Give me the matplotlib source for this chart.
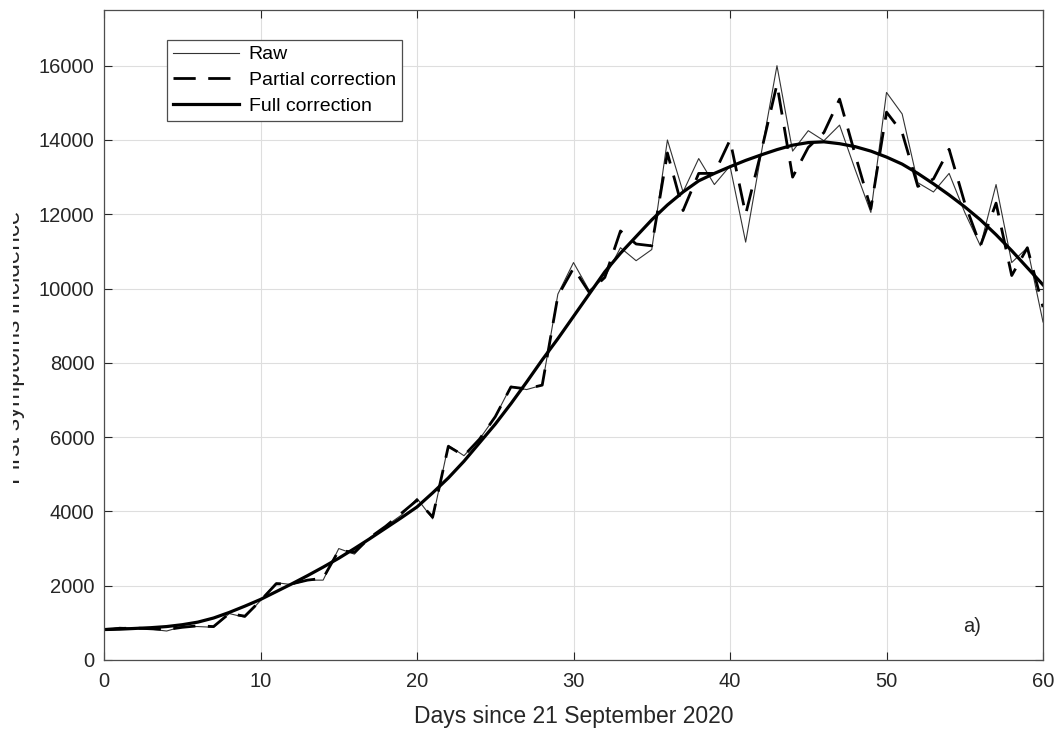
import matplotlib
matplotlib.use("Agg")
import matplotlib.pyplot as plt
from matplotlib.patches import Rectangle

plt.rcParams['font.family'] = ['Liberation Sans', 'DejaVu Sans']

# Days since 21 September 2020
days = list(range(61))

# Raw first-symptoms incidence
raw = [800, 880, 850, 830, 780, 900, 900, 880, 1250, 1150,
       1600, 2080, 2030, 2150, 2150, 3000, 2850, 3300, 3600, 3900,
       4350, 3800, 5780, 5500, 5950, 6550, 7370, 7280, 7400, 9850,
       10700, 9950, 10300, 11100, 10750, 11050, 14000, 12600, 13500, 12800,
       13300, 11250, 13650, 16000, 13700, 14250, 13980, 14400, 13200, 12050,
       15280, 14700, 12850, 12600, 13100, 12050, 11150, 12800, 10700, 11100,
       9100]

partial = [820, 850, 860, 840, 820, 880, 920, 900, 1250, 1180,
           1600, 2050, 2050, 2150, 2200, 2950, 2900, 3300, 3600, 3950,
           4300, 3850, 5750, 5500, 5950, 6550, 7350, 7300, 7400, 9800,
           10550, 9900, 10300, 11550, 11200, 11150, 13650, 12100, 13100, 13100,
           14000, 12000, 13700, 15500, 13000, 13800, 14200, 15100, 13600, 12150,
           14750, 14200, 12750, 12950, 13750, 12300, 11150, 12300, 10350, 11100,
           9500]

full = [820, 830, 850, 870, 900, 950, 1020, 1130, 1280, 1450,
        1630, 1840, 2050, 2270, 2500, 2740, 3000, 3270, 3550, 3830,
        4120, 4500, 4900, 5350, 5850, 6350, 6900, 7480, 8080, 8650,
        9250, 9850, 10450, 10950, 11400, 11850, 12250, 12600, 12900, 13100,
        13280, 13450, 13600, 13740, 13860, 13930, 13950, 13900, 13820, 13700,
        13540, 13350, 13100, 12820, 12520, 12200, 11850, 11450, 11020, 10560,
        10100]

fig = plt.figure(figsize=(10.56, 7.33), dpi=100)
ax = fig.add_axes([0.0985, 0.0996, 0.8892, 0.8868])

ax.plot(days, raw, color='#333333', lw=0.8, label='Raw')
ax.plot(days, partial, color='black', lw=2.0, linestyle=(0, (8, 4.5)),
        label='Partial correction')
ax.plot(days, full, color='black', lw=2.3, label='Full correction')

ax.set_xlim(0, 60)
ax.set_ylim(0, 17500)
ax.set_xticks(range(0, 61, 10))
ax.set_yticks(range(0, 16001, 2000))
ax.grid(True, color='#dedede', lw=0.8)
ax.set_axisbelow(True)
ax.tick_params(direction='in', length=6, width=0.8, colors='#262626',
               labelsize=14.5, top=True, right=True)
ax.tick_params(axis='x', pad=9)
ax.tick_params(axis='y', pad=7)
for sp in ax.spines.values():
    sp.set_color('#4d4d4d')
    sp.set_linewidth(0.9)

ax.set_xlabel('Days since 21 September 2020', fontsize=16.5, color='#262626',
              labelpad=10)

# y label: its upper part is cut off in the original figure
fig.text(25 / 1056, 1 - 347 / 733, 'First symptoms incidence',
         rotation=90, ha='center', va='bottom', fontsize=17.5,
         color='#262626', rotation_mode='anchor', zorder=2)
fig.patches.append(Rectangle((0, 0), 13 / 1056, 1, transform=fig.transFigure,
                             facecolor='white', edgecolor='none', zorder=5))

ax.text(54.9, 760, 'a)', fontsize=14.5, color='#262626')

leg = ax.legend(loc='upper left', bbox_to_anchor=(0.067, 0.954),
                borderaxespad=0, fontsize=14, handlelength=3.4,
                handletextpad=0.5, labelspacing=0.42, fancybox=False,
                framealpha=1, borderpad=0.3)
leg.get_frame().set_edgecolor('#4d4d4d')
leg.get_frame().set_linewidth(0.9)

fig.savefig('out.png', dpi=100)
